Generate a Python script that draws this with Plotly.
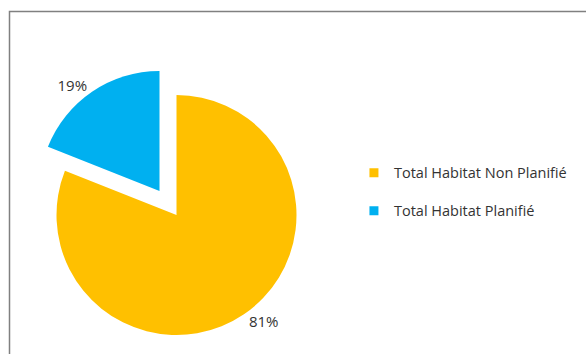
import plotly.graph_objects as go

categories = ["Total Habitat Non Planifié", "Total Habitat Planifié"]
values = [81, 19]
colors = ["#FFC000", "#00B0F0"]

W, H = 586, 354

def dom(cx, cy, r):
    return dict(x=[(cx - r) / W, (cx + r) / W], y=[1 - (cy + r) / H, 1 - (cy - r) / H])

FONT = "Open Sans"
TXT = "#333333"

fig = go.Figure()
# yellow slice (unpulled)
fig.add_trace(go.Pie(
    labels=categories, values=values, sort=False, direction="clockwise", rotation=0,
    marker=dict(colors=[colors[0], "rgba(0,0,0,0)"], line=dict(width=0)),
    texttemplate=["%{percent:.0%}", ""], textposition="outside",
    textfont=dict(family=FONT, size=15, color=TXT),
    domain=dom(176.5, 215, 120), showlegend=False, hoverinfo="label+percent",
))
# blue slice (exploded)
fig.add_trace(go.Pie(
    labels=categories, values=values, sort=False, direction="clockwise", rotation=0,
    marker=dict(colors=["rgba(0,0,0,0)", colors[1]], line=dict(width=0)),
    texttemplate=["", "%{percent:.0%}"], textposition="outside",
    textfont=dict(family=FONT, size=15, color=TXT),
    domain=dom(159.5, 191, 120), showlegend=False, hoverinfo="label+percent",
))
# legend entries
for i, (c, col) in enumerate(zip(categories, colors)):
    fig.add_trace(go.Scatter(x=[None], y=[None], mode="markers", name=c,
                             marker=dict(symbol="square", size=9, color=col),
                             legendgroup=f"g{i}", showlegend=True))

fig.update_layout(
    width=W, height=H, margin=dict(l=0, r=0, t=0, b=0),
    paper_bgcolor="white", plot_bgcolor="white",
    xaxis=dict(visible=False), yaxis=dict(visible=False),
    legend=dict(x=0.604, y=0.458, xanchor="left", yanchor="middle",
                font=dict(family=FONT, size=14.5, color=TXT),
                tracegroupgap=16, itemwidth=30, bgcolor="rgba(0,0,0,0)"),
    shapes=[dict(type="rect", xref="paper", yref="paper",
                 x0=9.5 / W, x1=1.2, y0=-0.2, y1=1 - 11.5 / H,
                 line=dict(color="#808080", width=1.5), layer="above")],
)
fig.write_html("out.html")
